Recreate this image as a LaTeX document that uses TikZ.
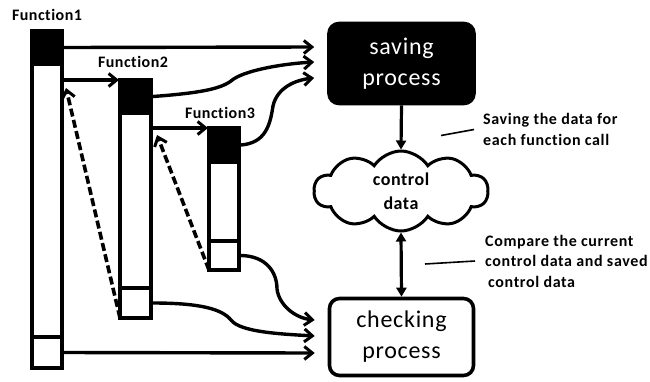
\documentclass[tikz,border=0pt]{standalone}
\usepackage{fontspec}
\setmainfont{Carlito}[Ligatures=NoCommon]
\usetikzlibrary{arrows.meta,shapes.symbols}

\tikzset{
  barpart/.style={draw, line width=4pt, minimum width=30pt, inner sep=0pt, outer sep=0pt, anchor=north},
  barhead/.style={barpart, fill=black},
  barbody/.style={barpart, fill=white},
  open tip/.style={-{Straight Barb[length=8pt,width=13pt,line width=3pt]}},
  solid tip/.style={-{Triangle[length=9pt,width=10pt]}},
  flow/.style={line width=3.4pt, open tip},
  ret/.style={line width=3.6pt, dash pattern=on 8pt off 3.5pt, open tip},
  fname/.style={font=\bfseries\fontsize{16}{18}\selectfont\addfontfeatures{LetterSpace=3}, inner sep=0pt},
  procbox/.style={draw, line width=3.6pt, rounded corners=10pt, minimum width=145pt, minimum height=80pt,
    align=center, font=\fontsize{24}{31}\selectfont\addfontfeatures{LetterSpace=3}, inner sep=0pt},
  note/.style={font=\bfseries\fontsize{16}{20.5}\selectfont\addfontfeatures{LetterSpace=4},
    align=left, inner sep=0pt, anchor=west},
  pointer/.style={line width=1.6pt}
}

\begin{document}
\begin{tikzpicture}[x=1pt, y=-1pt]
  \useasboundingbox (0,0) rectangle (650,381);

  % call stack bars: black head, white body, white foot
  \node[barhead, minimum height=33pt]  (f1h) at (47,31) {};
  \node[barbody, minimum height=273pt] (f1b) at (f1h.south) {};
  \node[barbody, minimum height=31pt]  (f1f) at (f1b.south) {};

  \node[barhead, minimum height=33pt, minimum width=31pt]  (f2h) at (135.5,80) {};
  \node[barbody, minimum height=175pt, minimum width=31pt] (f2b) at (f2h.south) {};
  \node[barbody, minimum height=30pt, minimum width=31pt]  (f2f) at (f2b.south) {};

  \node[barhead, minimum height=34pt] (f3h) at (224,128) {};
  \node[barbody, minimum height=79pt] (f3b) at (f3h.south) {};
  \node[barbody, minimum height=29pt] (f3f) at (f3b.south) {};

  % function names
  \node[fname] (l1) at ([yshift=16pt]f1h.north) {Function1};
  \node[fname] (l2) at ([shift={(-2.5pt,18pt)}]f2h.north) {Function2};
  \node[fname] (l3) at ([shift={(-4pt,15pt)}]f3h.north) {Function3};

  % processes and shared data
  \node[procbox, fill=black, text=white] (sp) at (401.5,63.5) {saving\\process};
  \node[procbox, fill=white, minimum width=144pt, minimum height=77pt] (cp) at (401.5,337) {checking\\process};
  \node[cloud, draw, line width=3pt, cloud puffs=10, cloud puff arc=115, aspect=2.2,
        minimum width=174pt, minimum height=80pt, inner sep=0pt, align=center,
        font=\bfseries\fontsize{18}{24}\selectfont\addfontfeatures{LetterSpace=3}] (cd) at (401,191) {control\\data};

  % nested calls
  \draw[flow] ([xshift=2pt]f1b.east |- f2h.north west) -- ([xshift=-1pt]f2h.north west);
  \draw[flow] ([xshift=2pt]f2b.east |- f3h.north west) -- ([xshift=-1pt]f3h.north west);

  % returns
  \draw[ret] (f2f.south west) -- ([shift={(4pt,-24pt)}]f1b.north east);
  \draw[ret] (f3f.south west) -- ([shift={(6pt,-7pt)}]f3h.north west -| f2b.east);

  % entry hooks into the saving process
  \coordinate (s1) at ([shift={(-13pt,16.5pt)}]sp.west);
  \coordinate (s2) at ([shift={(-13pt,1.5pt)}]sp.west);
  \coordinate (s3) at ([shift={(-13pt,-14.5pt)}]sp.west);
  \draw[flow] ([xshift=2pt]f1h.east) -- (s1);
  \draw[flow] ([xshift=2pt]f2h.east) .. controls (200,93) and (220,89) .. (231,81)
        .. controls (242,71) and (280,64) .. (s2);
  \draw[flow] ([xshift=2pt]f3h.east) .. controls (265,143) and (270,126) .. (273,106)
        .. controls (277,88) and (295,80) .. (s3);

  % exit hooks into the checking process
  \coordinate (c1) at ([shift={(-13pt,-16pt)}]cp.west);
  \coordinate (c2) at ([shift={(-13pt,1pt)}]cp.west);
  \coordinate (c3) at ([shift={(-13pt,17pt)}]cp.west);
  \draw[flow] ([xshift=2pt]f1f.east) -- (c1);
  \draw[flow] ([xshift=2pt]f2f.east) .. controls (200,303) and (222,309) .. (231,320)
        .. controls (240,332) and (280,334) .. (c2);
  \draw[flow] ([xshift=2pt]f3f.east) .. controls (266,256) and (277,272) .. (277,289)
        .. controls (279,305) and (295,318) .. (c3);

  % data flow between processes and control data
  \draw[line width=3.2pt, solid tip] (sp.south) -- (cd.north);
  \draw[line width=3.2pt, {Triangle[length=9pt,width=10pt]}-{Triangle[length=9pt,width=10pt]}] (cd.south) -- (cp.north);

  % notes
  \node[note] (n1) at (483,129.5) {Saving the data for\\each function call};
  \node[note] (n2) at (485,261) {Compare the current\\control data and saved\\\hspace{3pt}control data};
  \draw[pointer] ([xshift=-9pt]n1.west) -- ++(-33,6);
  \draw[pointer] ([xshift=-10pt]n2.west) -- ++(-50,3);
\end{tikzpicture}
\end{document}
